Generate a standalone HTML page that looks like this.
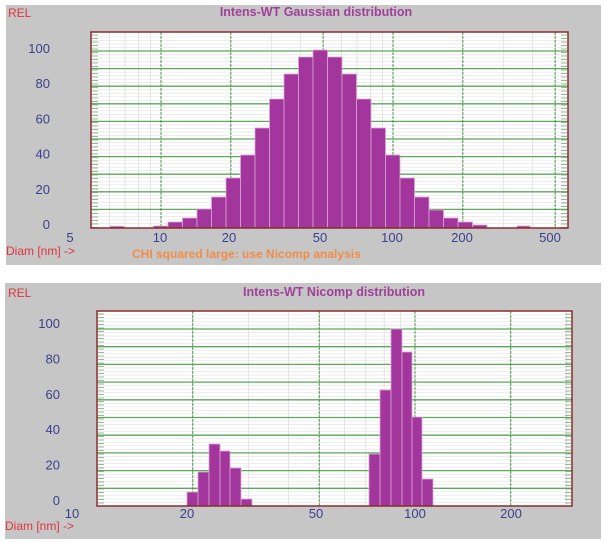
<!DOCTYPE html>
<html><head><meta charset="utf-8"><style>
html,body{margin:0;padding:0;background:#fff;width:607px;height:542px;overflow:hidden}
svg{display:block}
text{font-family:"Liberation Sans",Arial,sans-serif}
</style></head><body>
<svg id="s" width="607" height="542" xmlns="http://www.w3.org/2000/svg">
<rect x="0" y="0" width="607" height="542" fill="#fff"/>
<rect x="6" y="5" width="595" height="260" fill="#c6c6c6"/>
<rect x="5" y="283" width="596" height="256" fill="#c6c6c6"/>
<g id="g"></g>
<text x="8" y="17" fill="#e0343a" font-size="12">REL</text>
<text x="316" y="16" fill="#a0409a" font-size="12.5" font-weight="bold" text-anchor="middle">Intens-WT Gaussian distribution</text>
<text x="6" y="255" fill="#e0343a" font-size="12">Diam [nm] -&gt;</text>
<text x="132" y="258" fill="#f08c48" font-size="12" font-weight="bold">CHI squared large: use Nicomp analysis</text>
<text x="8" y="297" fill="#e0343a" font-size="12">REL</text>
<text x="334" y="296" fill="#a0409a" font-size="12.5" font-weight="bold" text-anchor="middle">Intens-WT Nicomp distribution</text>
<text x="5" y="530" fill="#e0343a" font-size="12">Diam [nm] -&gt;</text>
</svg>
<script>
var g=document.getElementById('g'),NS='http://www.w3.org/2000/svg';
function el(t,a,txt){var e=document.createElementNS(NS,t);for(var k in a)e.setAttribute(k,a[k]);if(txt!=null)e.textContent=txt;g.appendChild(e);return e;}
function panel(L,R,T,B,x10,dec,y0,py,ylabx,ylaby,xlabs,xticks,bars){
 el('rect',{x:L,y:T,width:R-L,height:B-T,fill:'#fff'});
 for(var d=-1;d<=3;d++)for(var m=2;m<=9;m++){var v=Math.pow(10,d)*m;var x=x10+Math.log10(v/10)*dec;if(x>L&&x<R)el('line',{x1:x,x2:x,y1:T,y2:B,stroke:'#dcdcdc','stroke-width':0.8});}
 for(var i=1;i<=60;i++){var y=y0-i*py/5;if(y<=T)break;if(i%5)el('line',{x1:L,x2:R,y1:y,y2:y,stroke:'#e2e2e2','stroke-width':0.6});}
 for(var i=1;i<=10;i++){var y=y0-i*py;el('line',{x1:L,x2:R,y1:y,y2:y,stroke:'#5aaa5a','stroke-width':1.3});}
 xticks.forEach(function(v){var x=x10+Math.log10(v/10)*dec;el('line',{x1:x,x2:x,y1:T,y2:B,stroke:'#4a9a4a','stroke-width':1,'stroke-dasharray':'3,1'});});
 for(var y=T+3;y<B;y+=3.5){el('line',{x1:L+1,x2:L+7,y1:y,y2:y,stroke:'#6a9a6a','stroke-width':0.7});el('line',{x1:R-7,x2:R-1,y1:y,y2:y,stroke:'#6a9a6a','stroke-width':0.7});}
 bars.forEach(function(b){el('rect',{x:b[0],y:b[2],width:b[1]-b[0],height:B-b[2],fill:'#a2369c',stroke:'#d9a6d4','stroke-width':0.8});});
 el('rect',{x:L,y:T,width:R-L,height:B-T,fill:'none',stroke:'#8b2a2a','stroke-width':1.5});
 ['0','20','40','60','80','100'].forEach(function(t,i){el('text',{x:ylabx,y:ylaby-i*2*py,fill:'#3b3f8c','font-size':13,'text-anchor':'end'},t);});
 xlabs.forEach(function(a){el('text',{x:a[1],y:a[2],fill:'#3b3f8c','font-size':13,'text-anchor':'middle'},a[0]);});
}
var tops=[226,222,218,209,197,178,155,128,99,74,57,50,57,74,99,128,155,178,197,210,218,222,225];
var b1=[];tops.forEach(function(t,i){b1.push([153.5+i*14.5,168+i*14.5,t]);});
b1.push([110,124,226.3]);b1.push([517,530,226]);
panel(91,568,32,228,161,232,227,17.6,50,229,[['5',70,242],['10',160,242],['20',229,242],['50',320,242],['100',392,242],['200',462,242],['500',550,242]],[10,20,50,100,200,500],b1);
var e=[187,198,209,220,230,241,252],tt=[492,472,444,451,468,499],b2=[];
for(var i=0;i<6;i++)b2.push([e[i],e[i+1],tt[i]]);
var e2=[369,380,391,402,412,422,433],t2=[454,390,329,352,417,479];
for(var i=0;i<6;i++)b2.push([e2[i],e2[i+1],t2[i]]);
panel(97,572,311,506,97,318,506,17.7,60,505,[['10',72,518],['20',187,518],['50',316,518],['100',415,518],['200',511,518]],[20,50,100,200],b2);
</script>
</body></html>
